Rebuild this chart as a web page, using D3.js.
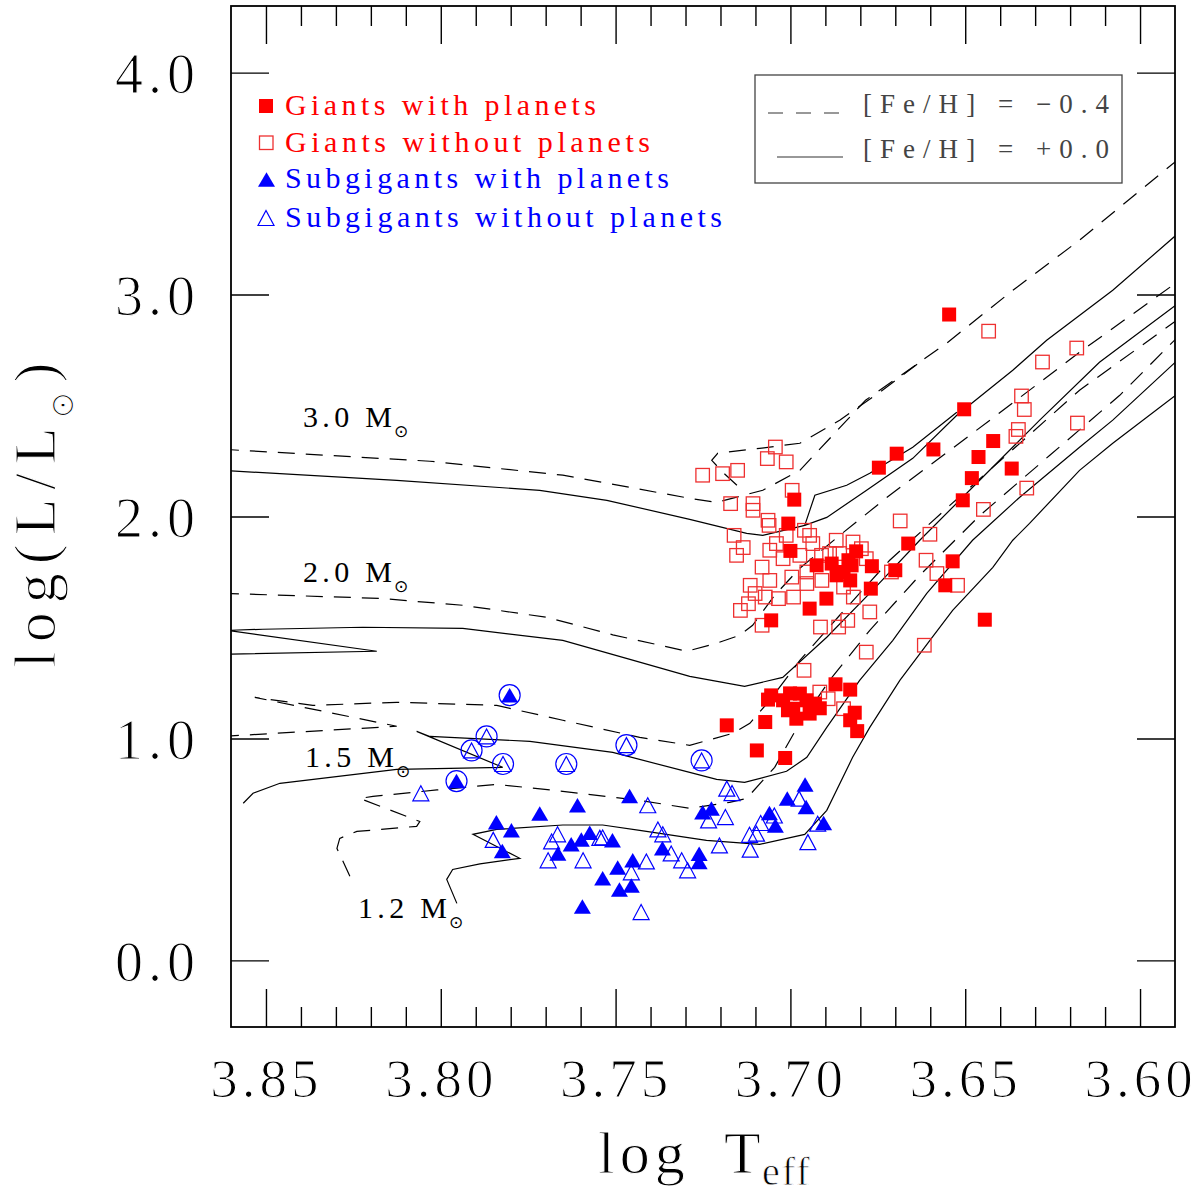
<!DOCTYPE html>
<html>
<head>
<meta charset="utf-8">
<script src="https://cdn.jsdelivr.net/npm/d3@7/dist/d3.min.js"></script>
<style>
  html, body { margin: 0; padding: 0; background: #fff; }
  svg { display: block; }
</style>
</head>
<body>
<div id="chart"></div>
<script>
// ---- ticks ----
const xMajor = [3.85, 3.80, 3.75, 3.70, 3.65, 3.60];
const yMajor = [0, 1, 2, 3, 4];

// ---- stars: [log Teff, log L/Lsun] ----
const giantsWithPlanets = [
  [3.6546,2.910],[3.6503,2.483],[3.6696,2.283],[3.6591,2.302],[3.6747,2.220],[3.6420,2.340],
  [3.6462,2.268],[3.6367,2.216],[3.6481,2.173],[3.6507,2.073],[3.6663,1.878],[3.6989,2.076],
  [3.7006,1.968],[3.7000,1.845],[3.6812,1.843],[3.6536,1.798],[3.6925,1.780],[3.6882,1.788],
  [3.6868,1.735],[3.6825,1.780],[3.6829,1.712],[3.6767,1.776],[3.6770,1.675],[3.6700,1.758],
  [3.6557,1.690],[3.6897,1.630],[3.6945,1.585],[3.7055,1.532],[3.6444,1.535],[3.7055,1.194],
  [3.7064,1.175],[3.7021,1.172],[3.6973,1.202],[3.6954,1.172],[3.6930,1.157],[3.6992,1.134],
  [3.6945,1.112],[3.6983,1.089],[3.7007,1.127],[3.6871,1.244],[3.6829,1.220],[3.6816,1.116],
  [3.6829,1.082],[3.6809,1.033],[3.7072,1.074],[3.7182,1.059],[3.7096,0.946],[3.7015,0.912],
  [3.7001,1.203],[3.6916,1.136],[3.6848,1.750],[3.6834,1.803]
];
const giantsWithoutPlanets = [
  [3.6433,2.835],[3.6181,2.759],[3.6279,2.696],[3.6339,2.543],[3.6331,2.482],[3.6179,2.421],
  [3.6348,2.392],[3.6355,2.361],[3.6324,2.128],[3.6448,2.032],[3.6686,1.980],[3.6601,1.920],
  [3.6612,1.803],[3.7043,2.313],[3.7066,2.261],[3.7012,2.246],[3.7151,2.208],[3.7194,2.193],
  [3.7251,2.186],[3.6995,2.118],[3.7171,2.058],[3.7107,2.058],[3.7107,2.028],[3.7064,1.983],
  [3.7061,1.960],[3.7161,1.915],[3.7135,1.860],[3.7154,1.825],[3.7059,1.848],[3.7040,1.878],
  [3.7012,1.915],[3.6960,1.938],[3.6945,1.915],[3.6936,1.878],[3.6869,1.893],[3.6821,1.885],
  [3.6797,1.855],[3.6888,1.833],[3.6783,1.810],[3.7021,1.810],[3.6973,1.825],[3.6911,1.825],
  [3.6859,1.833],[3.6581,1.743],[3.6522,1.690],[3.6711,1.750],[3.7081,1.772],[3.7059,1.712],
  [3.7115,1.690],[3.7101,1.653],[3.7120,1.607],[3.7143,1.577],[3.7072,1.637],[3.7034,1.630],
  [3.6991,1.637],[3.6953,1.698],[3.6910,1.712],[3.6848,1.682],[3.6820,1.637],[3.6953,1.750],
  [3.6996,1.727],[3.7081,1.510],[3.6914,1.502],[3.6862,1.502],[3.6836,1.532],[3.6773,1.570],
  [3.6783,1.389],[3.6617,1.420],[3.6961,1.307],[3.6916,1.209],[3.6892,1.179],[3.6848,1.134]
];
const subgiantsWithPlanets = [
  [3.7803,1.195],[3.7955,0.808],[3.7460,0.741],[3.7609,0.699],[3.7717,0.662],[3.7841,0.622],
  [3.7798,0.586],[3.7824,0.493],[3.7665,0.482],[3.7627,0.523],[3.7598,0.545],[3.7574,0.575],
  [3.7509,0.541],[3.7366,0.505],[3.7494,0.419],[3.7451,0.451],[3.7537,0.370],[3.7489,0.320],
  [3.7455,0.338],[3.7595,0.243],[3.6958,0.793],[3.7009,0.729],[3.6955,0.691],[3.7060,0.664],
  [3.7043,0.608],[3.6905,0.619],[3.7251,0.668],[3.7226,0.684],[3.7261,0.481],[3.7261,0.443]
];
const subgiantsWithoutPlanets = [
  [3.8057,0.753],[3.7408,0.699],[3.7850,0.543],[3.7666,0.568],[3.7683,0.536],[3.7693,0.451],
  [3.7593,0.451],[3.7545,0.552],[3.7537,0.554],[3.7455,0.397],[3.7412,0.446],[3.7379,0.590],
  [3.7365,0.568],[3.7341,0.482],[3.7311,0.451],[3.7294,0.406],[3.7427,0.218],[3.7182,0.774],
  [3.7167,0.754],[3.6975,0.729],[3.7186,0.646],[3.7234,0.631],[3.7046,0.653],[3.7085,0.619],
  [3.7117,0.566],[3.7097,0.571],[3.7115,0.499],[3.7203,0.518],[3.6950,0.533],[3.6922,0.616],
  [3.7869,1.009],[3.7912,0.946],[3.7822,0.885],[3.7641,0.885],[3.7469,0.970],[3.7254,0.901]
];
// stars marked with a ring
const ringed = [
  [3.7803,1.195],[3.7955,0.808],[3.7869,1.009],[3.7912,0.946],
  [3.7822,0.885],[3.7641,0.885],[3.7469,0.970],[3.7254,0.901]
];

// ---- evolutionary tracks ----
const track30Dashed = [
  [3.8626,2.303],[3.8031,2.249],[3.7651,2.186],[3.7288,2.082],[3.7211,2.064],[3.7079,2.118],
  [3.6973,2.208],[3.6785,2.524],[3.6553,2.781],[3.6364,3.019],[3.6173,3.245],[3.5887,3.614]
];
const track30DashedLoop = [
  [3.7153,2.141],[3.7193,2.199],[3.7225,2.253],[3.7208,2.285],[3.7088,2.307],[3.6973,2.330],
  [3.6859,2.434],[3.6744,2.560],[3.6630,2.695]
];
const track30Solid = [
  [3.8626,2.208],[3.8126,2.163],[3.7717,2.118],[3.7525,2.073],[3.7288,1.987],[3.7125,1.924],
  [3.7079,1.915],[3.6959,1.960],[3.6896,1.996],[3.6782,2.118],[3.6650,2.262],[3.6524,2.456],
  [3.6364,2.659],[3.6267,2.794],[3.6078,3.019],[3.5887,3.281]
];
const track30SolidLoop = [
  [3.6959,1.960],[3.6930,2.096],[3.6839,2.141],[3.6773,2.195],[3.6650,2.312],[3.6524,2.470]
];
const track20Dashed = [
  [3.8626,1.654],[3.8174,1.631],[3.7937,1.600],[3.7697,1.546],[3.7508,1.467],[3.7296,1.393],
  [3.7211,1.429],[3.7145,1.465],[3.7108,1.510],[3.7045,1.645],[3.6973,1.767],[3.6859,1.915],
  [3.6716,2.096],[3.6544,2.298],[3.6373,2.501],[3.6173,2.740],[3.5887,3.064]
];
const track20Solid = [
  [3.8626,1.379],[3.8183,1.393],[3.8609,1.487],[3.8509,1.492],[3.8223,1.501],[3.7937,1.496],
  [3.7651,1.442],[3.7459,1.356],[3.7288,1.280],[3.7131,1.235],[3.7022,1.275],[3.6896,1.456],
  [3.6765,1.667],[3.6630,1.893],[3.6473,2.141],[3.6287,2.434],[3.6116,2.695],[3.5887,2.965]
];
const track15Dashed = [
  [3.8626,1.009],[3.8126,1.055],[3.8532,1.185],[3.8366,1.149],[3.8126,1.163],[3.7840,1.149],
  [3.7651,1.082],[3.7431,1.005],[3.7288,0.969],[3.7165,1.023],[3.7116,1.068],[3.7059,1.172],
  [3.6973,1.352],[3.6859,1.555],[3.6716,1.803],[3.6544,2.050],[3.6373,2.289],[3.6173,2.569],
  [3.5887,2.893]
];
const track15Solid = [
  [3.8565,0.708],[3.8537,0.753],[3.8460,0.798],[3.8126,0.861],[3.7823,0.870],[3.8069,1.032],
  [3.8031,1.009],[3.7745,0.987],[3.7508,0.937],[3.7288,0.847],[3.7211,0.816],[3.7131,0.802],
  [3.7011,0.852],[3.6953,0.915],[3.6896,1.050],[3.6802,1.262],[3.6707,1.442],[3.6610,1.654],
  [3.6479,1.893],[3.6344,2.087],[3.6173,2.312],[3.6078,2.434],[3.5887,2.713]
];
const track12Dashed = [
  [3.8260,0.379],[3.8297,0.505],[3.8289,0.550],[3.8240,0.581],[3.8069,0.604],[3.8060,0.626],
  [3.8232,0.730],[3.8194,0.739],[3.8011,0.768],[3.7840,0.793],[3.7651,0.762],[3.7431,0.721],
  [3.7288,0.685],[3.7174,0.712],[3.7125,0.730],[3.7074,0.820],[3.7045,0.870],[3.6982,1.046],
  [3.6888,1.262],[3.6773,1.487],[3.6630,1.735],[3.6458,2.005],[3.6258,2.276],[3.6058,2.546],
  [3.5887,2.817]
];
const track12Solid = [
  [3.7954,0.257],[3.7983,0.365],[3.7966,0.410],[3.7888,0.435],[3.7774,0.460],[3.7908,0.568],
  [3.7840,0.590],[3.7651,0.610],[3.7537,0.610],[3.7431,0.586],[3.7288,0.552],[3.7240,0.541],
  [3.7088,0.523],[3.6959,0.568],[3.6896,0.676],[3.6822,0.915],[3.6773,1.050],[3.6687,1.262],
  [3.6601,1.442],[3.6536,1.577],[3.6421,1.771],[3.6364,1.893],[3.6316,1.969],[3.6173,2.208],
  [3.6078,2.330],[3.5887,2.560]
];

const dashedTracks = [track30Dashed, track30DashedLoop, track20Dashed, track15Dashed, track12Dashed];
const solidTracks = [track30Solid, track30SolidLoop, track20Solid, track15Solid, track12Solid];

// ---- texts ----
const legendLabels = ['Giants with planets', 'Giants without planets',
  'Subgigants with planets', 'Subgigants without planets'];
const fehLabels = ['[Fe/H] = \u22120.4', '[Fe/H] = +0.0'];
const massLabels = ['3.0', '2.0', '1.5', '1.2'];

const RED = '#ff0000';
const RED_OPEN = '#ee3030';
const BLUE = '#0000ff';
const SERIF = '"Liberation Serif", "DejaVu Serif", serif';
const SYM = '"DejaVu Sans", sans-serif';

const W = 1200, H = 1195;
const plot = { left: 231, right: 1175, top: 6, bottom: 1027 };

const x = d3.scaleLinear().domain([3.86, 3.59]).range([plot.left, plot.right]);
const y = d3.scaleLinear().domain([-0.3, 4.3]).range([plot.bottom, plot.top]);

const svg = d3.select('#chart').append('svg')
  .attr('width', W).attr('height', H)
  .attr('viewBox', `0 0 ${W} ${H}`)
  .style('background', '#fff');

svg.append('clipPath').attr('id', 'clip')
  .append('rect')
  .attr('x', plot.left).attr('y', plot.top)
  .attr('width', plot.right - plot.left).attr('height', plot.bottom - plot.top);

// thin the big serif glyphs a little, the original uses a light stroke font
function thin(sel, w) {
  sel.attr('stroke', '#fff').attr('stroke-width', w).attr('paint-order', 'normal');
}

// tracks
const line = d3.line().x(d => x(d[0])).y(d => y(d[1]));
const trackG = svg.append('g').attr('clip-path', 'url(#clip)')
  .attr('fill', 'none').attr('stroke', '#000').attr('stroke-width', 1.2);
trackG.selectAll('path.dashed').data(dashedTracks).join('path')
  .attr('class', 'dashed').attr('d', line).attr('stroke-dasharray', '17,11');
trackG.selectAll('path.solid').data(solidTracks).join('path')
  .attr('class', 'solid').attr('d', line);

// markers
const SQ = 13.5;
const triPath = (w, h) => `M0,${-h / 2}L${w / 2},${h / 2}L${-w / 2},${h / 2}Z`;

const starG = svg.append('g').attr('clip-path', 'url(#clip)');
starG.selectAll('rect.gwo').data(giantsWithoutPlanets).join('rect')
  .attr('class', 'gwo')
  .attr('x', d => x(d[0]) - SQ / 2).attr('y', d => y(d[1]) - SQ / 2)
  .attr('width', SQ).attr('height', SQ)
  .attr('fill', 'none').attr('stroke', RED_OPEN).attr('stroke-width', 1.3);
starG.selectAll('rect.gw').data(giantsWithPlanets).join('rect')
  .attr('class', 'gw')
  .attr('x', d => x(d[0]) - 7).attr('y', d => y(d[1]) - 7)
  .attr('width', 14).attr('height', 14)
  .attr('fill', RED);
starG.selectAll('path.swo').data(subgiantsWithoutPlanets).join('path')
  .attr('class', 'swo')
  .attr('d', triPath(16, 15))
  .attr('transform', d => `translate(${x(d[0])},${y(d[1])})`)
  .attr('fill', 'none').attr('stroke', BLUE).attr('stroke-width', 1.2);
starG.selectAll('path.sw').data(subgiantsWithPlanets).join('path')
  .attr('class', 'sw')
  .attr('d', triPath(17, 14.5))
  .attr('transform', d => `translate(${x(d[0])},${y(d[1])})`)
  .attr('fill', BLUE);
starG.selectAll('circle').data(ringed).join('circle')
  .attr('cx', d => x(d[0])).attr('cy', d => y(d[1])).attr('r', 10.5)
  .attr('fill', 'none').attr('stroke', BLUE).attr('stroke-width', 1.2);

// axes (ticks on all four sides, pointing inward)
function styleAxis(g) {
  g.select('.domain').remove();
  g.selectAll('line').attr('stroke', '#000').attr('stroke-width', 1.4);
  g.attr('font-family', SERIF).attr('font-size', 56);
}
const xMinor = d3.range(360, 386).filter(v => v % 5 !== 0).map(v => v / 100);

svg.append('g').attr('transform', `translate(0,${plot.bottom})`)
  .call(d3.axisBottom(x).tickValues(xMinor).tickSize(-20).tickFormat(''))
  .call(styleAxis);
svg.append('g').attr('transform', `translate(0,${plot.top})`)
  .call(d3.axisTop(x).tickValues(xMinor).tickSize(-20).tickFormat(''))
  .call(styleAxis);
svg.append('g').attr('transform', `translate(0,${plot.top})`)
  .call(d3.axisTop(x).tickValues(xMajor).tickSize(-38).tickFormat(''))
  .call(styleAxis);
const gx = svg.append('g').attr('transform', `translate(0,${plot.bottom})`)
  .call(d3.axisBottom(x).tickValues(xMajor).tickSize(-38).tickFormat(d3.format('.2f')))
  .call(styleAxis);
gx.selectAll('text').attr('y', 70).attr('dy', null)
  .attr('font-size', 55).attr('letter-spacing', 4)
  .attr('fill', '#000').call(thin, 1.2);

const gy = svg.append('g').attr('transform', `translate(${plot.left},0)`)
  .call(d3.axisLeft(y).tickValues(yMajor).tickSize(-38).tickFormat(d3.format('.1f')))
  .call(styleAxis);
gy.selectAll('text').attr('x', -31).attr('dy', null).attr('y', 20)
  .attr('letter-spacing', 5).attr('fill', '#000').call(thin, 1.2);
svg.append('g').attr('transform', `translate(${plot.right},0)`)
  .call(d3.axisRight(y).tickValues(yMajor).tickSize(-38).tickFormat(''))
  .call(styleAxis);

// frame
svg.append('rect')
  .attr('x', plot.left).attr('y', plot.top)
  .attr('width', plot.right - plot.left).attr('height', plot.bottom - plot.top)
  .attr('fill', 'none').attr('stroke', '#000').attr('stroke-width', 1.8);

// axis titles
const xt = svg.append('g').attr('font-family', SERIF).attr('fill', '#000');
xt.append('text').attr('x', 598).attr('y', 1173).attr('font-size', 60)
  .attr('letter-spacing', 5).text('log').call(thin, 1);
xt.append('text').attr('x', 724).attr('y', 1173).attr('font-size', 60).text('T').call(thin, 1);
xt.append('text').attr('x', 762).attr('y', 1185).attr('font-size', 40)
  .attr('letter-spacing', 2).text('eff').call(thin, 0.8);

const yt = svg.append('text')
  .attr('transform', 'translate(55,668) rotate(-90)')
  .attr('font-family', SERIF).attr('font-size', 60).attr('letter-spacing', 9)
  .attr('fill', '#000').call(thin, 1.2);
yt.append('tspan').text('log(L/L');
yt.append('tspan').attr('font-family', SYM).attr('font-size', 32).attr('dy', 18).text('\u2299');
yt.append('tspan').attr('dy', -18).text(')');

// mass labels on tracks
const massPos = [[303, 427], [303, 582], [305, 767], [358, 918]];
const mg = svg.append('g').attr('fill', '#000');
massLabels.forEach((m, i) => {
  const [px, py] = massPos[i];
  mg.append('text').attr('x', px).attr('y', py)
    .attr('font-family', SERIF).attr('font-size', 30)
    .attr('textLength', 89).attr('lengthAdjust', 'spacing')
    .text(`${m} M`);
  mg.append('text').attr('x', px + 98).attr('y', py + 10)
    .attr('text-anchor', 'middle')
    .attr('font-family', SYM).attr('font-size', 17).text('\u2299');
});

// legend: symbols
const legendRows = [106, 143, 179.5, 218];
const legendWidths = [311, 365, 384, 437];
const lg = svg.append('g');
lg.append('rect').attr('x', 259).attr('y', legendRows[0] - 7).attr('width', 14).attr('height', 14).attr('fill', RED);
lg.append('rect').attr('x', 259.5).attr('y', legendRows[1] - 7).attr('width', 13.5).attr('height', 13.5)
  .attr('fill', 'none').attr('stroke', RED_OPEN).attr('stroke-width', 1.3);
lg.append('path').attr('d', triPath(17, 14.5)).attr('transform', `translate(266.5,${legendRows[2]})`).attr('fill', BLUE);
lg.append('path').attr('d', triPath(16, 15)).attr('transform', `translate(266,${legendRows[3]})`)
  .attr('fill', 'none').attr('stroke', BLUE).attr('stroke-width', 1.2);
lg.selectAll('text').data(legendLabels).join('text')
  .attr('x', 285).attr('y', (d, i) => legendRows[i] + 8.5)
  .attr('font-family', SERIF).attr('font-size', 30)
  .attr('textLength', (d, i) => legendWidths[i]).attr('lengthAdjust', 'spacing')
  .attr('fill', (d, i) => i < 2 ? RED : BLUE)
  .text(d => d);

// legend: metallicity box
const fb = svg.append('g');
fb.append('rect').attr('x', 755).attr('y', 75).attr('width', 367).attr('height', 108)
  .attr('fill', 'none').attr('stroke', '#444').attr('stroke-width', 1.3);
fb.append('line').attr('x1', 768).attr('x2', 845).attr('y1', 113).attr('y2', 113)
  .attr('stroke', '#333').attr('stroke-width', 1.2).attr('stroke-dasharray', '15,13');
fb.append('line').attr('x1', 777).attr('x2', 843).attr('y1', 157).attr('y2', 157)
  .attr('stroke', '#333').attr('stroke-width', 1.2);
fb.selectAll('text').data(fehLabels).join('text')
  .attr('x', 863).attr('y', (d, i) => 113 + i * 45)
  .attr('font-family', SERIF).attr('font-size', 27)
  .attr('textLength', 246).attr('lengthAdjust', 'spacing')
  .attr('fill', '#444')
  .text(d => d);
</script>
</body>
</html>
